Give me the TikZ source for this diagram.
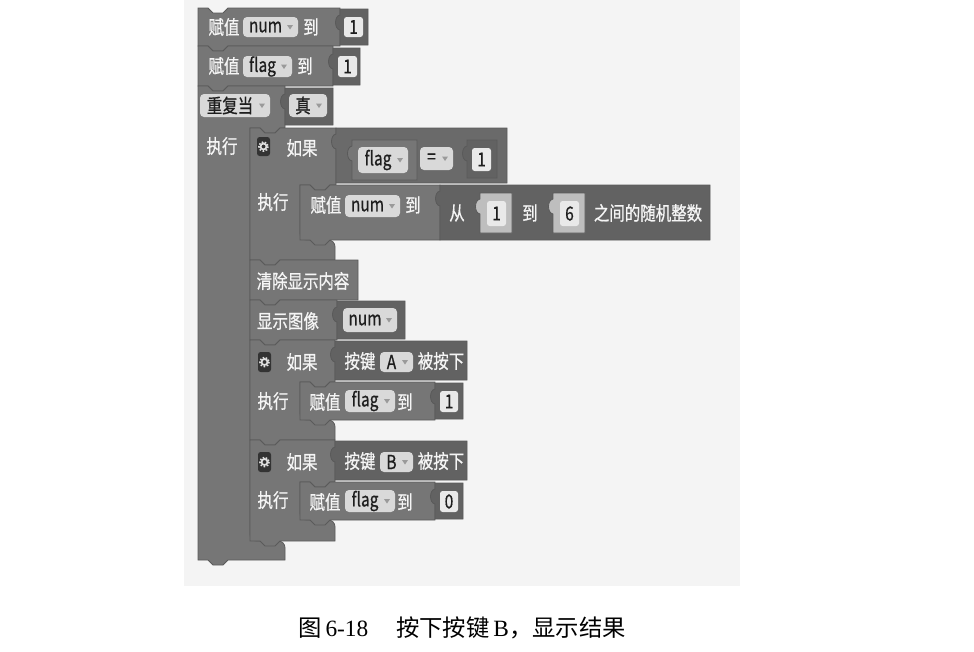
\documentclass[tikz,border=0pt]{standalone}
\usepackage{fontspec}
\usepackage{graphicx}
\newfontfamily\cjk[FakeBold=0.8]{Noto Sans CJK SC}
\newfontfamily\capcjk{Noto Sans CJK SC}
\newfontfamily\capser{Liberation Serif}
\definecolor{bgc}{HTML}{F4F4F4}
\definecolor{blk}{HTML}{767676}
\definecolor{blkline}{HTML}{5A5A5A}
\definecolor{valb}{HTML}{626262}
\definecolor{cmpb}{HTML}{6A6A6A}
\definecolor{fldc}{HTML}{D9D9D9}
\definecolor{numc}{HTML}{E9E9E9}
\definecolor{lgtb}{HTML}{BEBEBE}
\definecolor{txtw}{HTML}{F5F5F5}
\definecolor{txtd}{HTML}{1E1E1E}
\definecolor{ddarr}{HTML}{9A9A9A}
\definecolor{gearc}{HTML}{333333}
\newcommand\sqz[1]{\scalebox{0.8}[1]{#1}}
\tikzset{
  blockst/.style={fill=blk, draw=blkline, line width=0.6pt},
  wtxt/.style={font=\cjk\fontsize{14.5}{16}\selectfont, text=txtw, inner sep=0pt},
  dtxt/.style={font=\cjk\fontsize{14.5}{16}\selectfont, text=txtd, inner sep=0pt},
}
% statement block: x y w h
\newcommand\stmt[4]{%
  \filldraw[blockst] (#1,#2) -- (#1+10,#2) -- (#1+15,#2+5) -- (#1+25,#2+5) -- (#1+30,#2) -- (#1+#3,#2) -- (#1+#3,#2+#4) -- (#1+30,#2+#4) -- (#1+25,#2+#4+5) -- (#1+15,#2+#4+5) -- (#1+10,#2+#4) -- (#1,#2+#4) -- cycle;}
% C block: x y W H1 A M F B
\newcommand\cblk[8]{%
  \filldraw[blockst] (#1,#2) -- (#1+10,#2) -- (#1+15,#2+5) -- (#1+25,#2+5) -- (#1+30,#2) -- (#1+#3,#2) -- (#1+#3,#2+#4) -- (#1+#5+30,#2+#4) -- (#1+#5+25,#2+#4+5) -- (#1+#5+15,#2+#4+5) -- (#1+#5+10,#2+#4) -- (#1+#5,#2+#4) [rounded corners=5pt] -- (#1+#5,#2+#4+#6) -- (#1+#8,#2+#4+#6) [sharp corners] -- (#1+#8,#2+#4+#6+#7) -- (#1+30,#2+#4+#6+#7) -- (#1+25,#2+#4+#6+#7+5) -- (#1+15,#2+#4+#6+#7+5) -- (#1+10,#2+#4+#6+#7) -- (#1,#2+#4+#6+#7) -- cycle;}
% value block: [colour] x y w h
\newcommand\vblk[5][valb]{%
  \filldraw[fill=#1, draw=blkline, line width=0.6pt] (#2,#3) -- (#2+#4,#3) -- (#2+#4,#3+#5) -- (#2,#3+#5) -- (#2,#3+21) .. controls (#2-6,#3+20) and (#2-6,#3+7) .. (#2,#3+6) -- cycle;}
% dropdown field: name x1 y1 x2 y2 text
\newcommand\ddfield[6]{%
  \fill[fldc, rounded corners=3pt] (#2,#3) rectangle (#4,#5);
  \node[dtxt] (#1) at ({(#2+#4-10)/2},{(#3+#5)/2}) {\sqz{#6}};
  \fill[ddarr] ({#4-11},{(#3+#5)/2-2}) -- ({#4-5},{(#3+#5)/2-2}) -- ({#4-8},{(#3+#5)/2+2.5}) -- cycle;}
% number box: name x1 y1 x2 y2 text
\newcommand\numbox[6]{%
  \fill[numc, rounded corners=2pt] (#2,#3) rectangle (#4,#5);
  \node[dtxt] (#1) at ({(#2+#4)/2},{(#3+#5)/2}) {\sqz{#6}};}
% white text: name x y text
\newcommand\wtext[4]{\node[wtxt] (#1) at (#2,#3) {\sqz{#4}};}
% gear icon: x1 y1 x2 y2
\newcommand\gearicon[4]{%
  \fill[gearc, rounded corners=2pt] (#1,#2) rectangle (#3,#4);
  \draw[white!88!black, line width=1.3pt] ({(#1+#3)/2},{(#2+#4)/2}) circle (3);
  \draw[white!88!black, line width=1.2pt, dash pattern=on 1.2pt off 1.2pt] ({(#1+#3)/2},{(#2+#4)/2}) circle (4.6);}

\begin{document}
\begin{tikzpicture}[x=0.75pt,y=-0.75pt]
\useasboundingbox (0,0) rectangle (974,651);
\fill[bgc] (184,0) rectangle (740,586);

% block 1: 赋值 num 到 1
\stmt{198}{8}{142}{38}
\vblk{340}{9}{28}{36}
\wtext{a1}{224}{27}{赋值}
\ddfield{a2}{243}{17}{298}{37}{num}
\wtext{a3}{311}{27}{到}
\numbox{a4}{344}{17}{363}{37}{1}

% block 2: 赋值 flag 到 1
\stmt{198}{46}{135}{40}
\vblk{333}{48}{27}{37}
\wtext{b1}{224}{66}{赋值}
\ddfield{b2}{243}{56}{292}{77}{flag}
\wtext{b3}{305}{66}{到}
\numbox{b4}{338}{56}{357}{77}{1}

% loop
\cblk{198}{86}{87}{42}{52}{413}{19}{87}
\vblk{285}{88}{48}{37}
\ddfield{c1}{200}{94}{270}{117}{重复当}
\ddfield{c2}{289}{94}{327}{117}{真}
\wtext{c3}{222}{146}{执行}

% if 1
\cblk{250}{128}{86}{57}{50}{55}{20}{85}
\vblk[cmpb]{336}{128}{171}{55}
\gearicon{257}{137}{270}{156}
\wtext{d1}{302}{148}{如果}
\vblk[blk]{352}{140}{65}{40}
\ddfield{d2}{358}{147}{408}{173}{flag}
\ddfield{d3}{420}{147}{453}{170}{=}
\vblk{467}{140}{30}{38}
\numbox{d4}{472}{148}{491}{171}{1}
\wtext{d5}{273}{202}{执行}
\stmt{300}{185}{140}{55}
\wtext{e1}{326}{205}{赋值}
\ddfield{e2}{345}{195}{400}{217}{num}
\wtext{e3}{413}{205}{到}
\vblk{440}{185}{270}{55}
\wtext{e4}{457}{213}{从}
\vblk[lgtb]{480}{193}{32}{40}
\numbox{e5}{487}{201}{506}{226}{1}
\wtext{e6}{530}{213}{到}
\vblk[lgtb]{553}{193}{32}{40}
\numbox{e7}{560}{201}{579}{226}{6}
\wtext{e8}{648}{213}{之间的随机整数}

% clear display
\stmt{250}{260}{108}{40}
\wtext{f1}{303}{281}{清除显示内容}

% show image
\stmt{250}{300}{87}{40}
\wtext{g1}{288}{321}{显示图像}
\vblk{337}{301}{68}{38}
\ddfield{g2}{343}{308}{397}{332}{num}

% if A
\cblk{250}{340}{85}{42}{50}{38}{20}{85}
\vblk{335}{341}{132}{39}
\gearicon{258}{352}{271}{372}
\wtext{h1}{302}{362}{如果}
\wtext{h2}{360}{361}{按键}
\ddfield{h3}{380}{352}{413}{372}{A}
\wtext{h4}{441}{361}{被按下}
\wtext{h5}{273}{401}{执行}
\stmt{300}{382}{135}{38}
\wtext{i1}{325}{402}{赋值}
\ddfield{i2}{345}{390}{395}{412}{flag}
\wtext{i3}{405}{402}{到}
\vblk{435}{383}{28}{36}
\numbox{i4}{440}{391}{458}{412}{1}

% if B
\cblk{250}{440}{85}{42}{50}{38}{21}{85}
\vblk{335}{441}{132}{39}
\gearicon{258}{452}{271}{472}
\wtext{j1}{302}{462}{如果}
\wtext{j2}{360}{461}{按键}
\ddfield{j3}{380}{452}{413}{472}{B}
\wtext{j4}{441}{461}{被按下}
\wtext{j5}{273}{500}{执行}
\stmt{300}{482}{135}{38}
\wtext{k1}{325}{502}{赋值}
\ddfield{k2}{345}{490}{395}{512}{flag}
\wtext{k3}{405}{502}{到}
\vblk{435}{483}{28}{36}
\numbox{k4}{440}{491}{458}{512}{0}

% caption
\node[font=\capcjk\fontsize{17.5}{20}\selectfont, text=black, inner sep=0pt] (cap) at (462,628) {图\,{\capser 6-18}\hspace{1.2em}按下按键\,{\capser B}，显示结果};
\end{tikzpicture}
\end{document}
